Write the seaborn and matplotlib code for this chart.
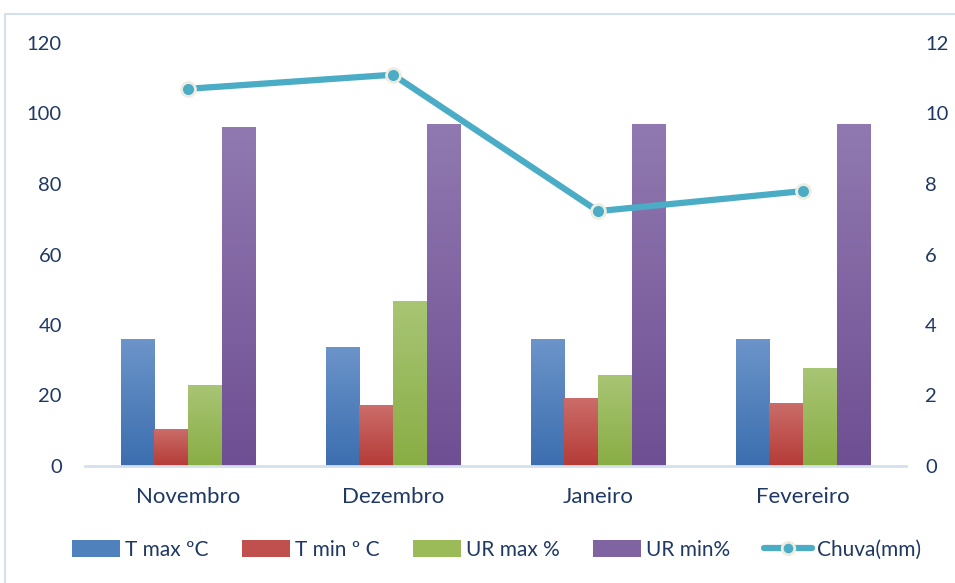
import numpy as np
import pandas as pd
import matplotlib
matplotlib.use("Agg")
import matplotlib.pyplot as plt
import seaborn as sns
from matplotlib.patches import Rectangle
from matplotlib.lines import Line2D
from matplotlib.patches import Patch
from matplotlib.colors import LinearSegmentedColormap

months = ["Novembro", "Dezembro", "Janeiro", "Fevereiro"]
t_max = [36.0, 33.8, 36.0, 36.0]
t_min = [10.5, 17.3, 19.3, 17.9]
ur_max = [23.0, 46.8, 25.8, 27.8]
ur_min = [96.2, 97.0, 97.0, 97.0]
chuva = [10.7, 11.1, 7.23, 7.8]
series_names = ["T max ºC", "T min º C", "UR max %", "UR min%"]
line_name = "Chuva(mm)"
left_ticks = [0, 20, 40, 60, 80, 100, 120]
right_ticks = [0, 2, 4, 6, 8, 10, 12]

colors = ["#4F81BD", "#C0504D", "#9BBB59", "#8064A2"]
grad_top = ["#6B94C9", "#CB6D6A", "#A8C574", "#9079B0"]
grad_bot = ["#3C6EAF", "#B53B37", "#89AD45", "#6F4F93"]
line_color = "#4BACC6"
text_color = "#1F3864"

sns.set_theme(style="white")
plt.rcParams["font.family"] = ["Lato", "DejaVu Sans"]

df = pd.DataFrame({
    "month": np.repeat(months, 4),
    "series": series_names * len(months),
    "value": np.array([t_max, t_min, ur_max, ur_min]).T.ravel(),
})

fig = plt.figure(figsize=(9.55, 5.83), dpi=100)
ax = fig.add_axes([85.5/955, 1-466/583, 820/955, (466-43)/583])

sns.barplot(data=df, x="month", y="value", hue="series", palette=colors,
            width=0.654, ax=ax, legend=False, saturation=1, gap=0)

ax.set_ylim(0, 120)
ax.set_xlim(-0.5, 3.5)

# gradient fill for bars
for p in list(ax.patches):
    fc = matplotlib.colors.to_hex(p.get_facecolor())
    i = None
    for k, c in enumerate(colors):
        if c.lower() == fc.lower():
            i = k
    if i is None:
        continue
    x0, y0 = p.get_x(), p.get_y()
    w, h = p.get_width(), p.get_height()
    cmap = LinearSegmentedColormap.from_list("g", [grad_bot[i], grad_top[i]])
    grad = np.linspace(0, 1, 100).reshape(-1, 1)
    im = ax.imshow(grad, cmap=cmap, origin="lower", aspect="auto",
                   extent=[x0, x0 + w, y0, y0 + h], zorder=p.get_zorder() + 0.1)
    im.set_clip_path(p)

ax.set_xlim(-0.5, 3.5)
ax.set_ylim(0, 120)

ax2 = ax.twinx()
xpos = np.arange(len(months))
sns.lineplot(x=xpos, y=chuva, ax=ax2, color=line_color, linewidth=4.5,
             marker="o", markersize=10, markerfacecolor=line_color,
             markeredgecolor="#EEECE1", markeredgewidth=2)

ax2.set_ylim(0, 12)
ax.set_yticks(left_ticks)
ax2.set_yticks(right_ticks)
ax.set_xlabel("")
ax.set_ylabel("")
ax2.set_ylabel("")

for a in (ax, ax2):
    for s in a.spines.values():
        s.set_visible(False)
    a.tick_params(length=0, labelsize=14.5, labelcolor=text_color)
    a.grid(False)
ax.spines["bottom"].set_visible(True)
ax.spines["bottom"].set_color("#D5E0EE")
ax.spines["bottom"].set_linewidth(2)
ax.tick_params(axis="y", pad=17)
ax2.tick_params(axis="y", pad=14)
ax.tick_params(axis="x", pad=15, labelsize=16)

fig.patches.append(Rectangle((5/955, -0.2), 1.2, 0.2 + (1 - 14/583), transform=fig.transFigure,
                             fill=False, edgecolor="#D5E0EE", linewidth=1.5))

handles = [Patch(facecolor=c, edgecolor="none") for c in colors]
handles.append(Line2D([0], [0], color=line_color, linewidth=4.5, marker="o",
                      markersize=9, markerfacecolor=line_color, markeredgecolor="#EEECE1",
                      markeredgewidth=2))
labels = series_names + [line_name]
fig.legend(handles, labels, loc="center", bbox_to_anchor=(0.52, 1-550/583), ncol=5,
           frameon=False, fontsize=15, labelcolor=text_color, handlelength=2.3,
           handleheight=0.9, handletextpad=0.25, columnspacing=1.6)

fig.savefig("out.png", dpi=100)
